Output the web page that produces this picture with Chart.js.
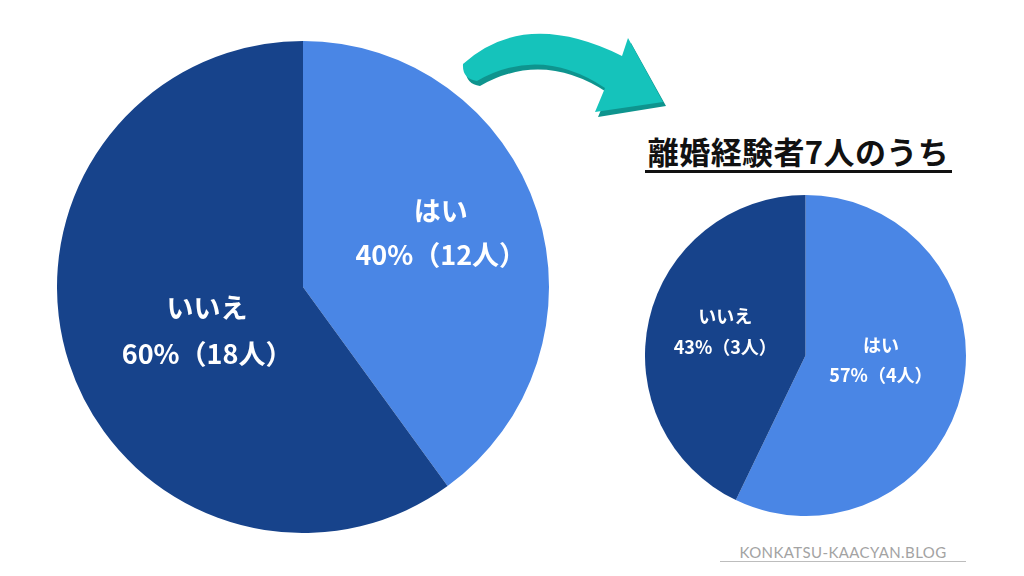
<!DOCTYPE html>
<html lang="ja">
<head>
<meta charset="utf-8">
<script src="https://cdn.jsdelivr.net/npm/chart.js@4"></script>
<style>
  html, body { margin: 0; padding: 0; background: #fff; }
  body { width: 1024px; height: 576px; position: relative; overflow: hidden;
         font-family: "Noto Sans CJK JP", "Noto Sans", sans-serif; }
  .pie { position: absolute; }
  #bigWrap { left: 57px; top: 41px; width: 492px; height: 492px; }
  #smallWrap { left: 645px; top: 195px; width: 321px; height: 321px; }
  #title { position: absolute; left: 645px; top: 132px; width: 307px; text-align: center;
           font-size: 31px; font-weight: 700; color: #111; line-height: 38px;
           border-bottom: 3px solid #111; letter-spacing: 0.4px; white-space: nowrap; }
  #arrow { position: absolute; left: 0; top: 0; }
  #credit { position: absolute; left: 720px; top: 544px; width: 246px; text-align: center;
            font-family: "Lato", "Noto Sans", sans-serif; font-size: 15px; color: #a3a3a3;
            letter-spacing: 0.4px; border-bottom: 1.5px solid #bdbdbd; line-height: 17px; }
</style>
</head>
<body>
<svg id="arrow" width="1024" height="576">
  <path d="M 466 69 Q 528 13 625 61 L 631 43 L 666 106 L 598 117 L 608 93 Q 543 50 480 86 Q 465 84 466 69 Z" fill="#0e948e"/>
  <path d="M 463 64 Q 525 8 622 56 L 628 38 L 663 102 L 595 112 L 605 88 Q 540 45 477 81 Q 462 79 463 64 Z" fill="#15c3bb"/>
</svg>

<div class="pie" id="bigWrap"><canvas id="bigPie"></canvas></div>
<div class="pie" id="smallWrap"><canvas id="smallPie"></canvas></div>

<div id="title">離婚経験者7人のうち</div>
<div id="credit">KONKATSU-KAACYAN.BLOG</div>

<script>
// Données
const categories = ['はい', 'いいえ']
const allCounts = [12, 18]        // 全体 30人
const divorcedCounts = [4, 3]     // 離婚経験者 7人
const sliceColors = ['#4a86e5', '#17438b']

// Label placement, in units of the pie radius (per slice)
const bigLabelOffsets = [[0.56, -0.31, -0.13], [-0.39, 0.085, 0.27]]
const smallLabelOffsets = [[0.47, -0.062, 0.125], [-0.50, -0.243, -0.05]]

// Plugin: two-line labels inside each slice
const sliceLabels = {
  id: 'sliceLabels',
  afterDatasetsDraw(chart, args, opts) {
    const { ctx } = chart
    const meta = chart.getDatasetMeta(0)
    const values = chart.data.datasets[0].data
    const total = values.reduce((a, b) => a + b, 0)
    ctx.save()
    ctx.fillStyle = '#ffffff'
    ctx.textAlign = 'center'
    ctx.textBaseline = 'middle'
    ctx.font = `bold ${opts.size}px "Noto Sans CJK JP", "Noto Sans", sans-serif`
    meta.data.forEach((arc, i) => {
      const r = arc.outerRadius
      const off = opts.offsets[i]
      const x = arc.x + off[0] * r
      const pct = Math.round(values[i] / total * 100)
      ctx.fillText(chart.data.labels[i], x, arc.y + off[1] * r)
      ctx.fillText(`${pct}%（${values[i]}人）`, x, arc.y + off[2] * r)
    })
    ctx.restore()
  }
}

function createPie(canvasId, counts, offsets, size) {
  const ctx = document.getElementById(canvasId)
  if (!ctx) return

  return new Chart(ctx, {
    type: 'pie',
    data: {
      labels: categories,
      datasets: [{
        data: counts,
        backgroundColor: sliceColors,
        borderWidth: 0,
      }],
    },
    options: {
      responsive: true,
      maintainAspectRatio: false,
      animation: false,
      layout: { padding: 0 },
      plugins: {
        legend: { display: false },
        tooltip: { enabled: false },
        sliceLabels: { offsets: offsets, size: size },
      },
    },
    plugins: [sliceLabels],
  })
}

createPie('bigPie', allCounts, bigLabelOffsets, 27)
createPie('smallPie', divorcedCounts, smallLabelOffsets, 18)
</script>
</body>
</html>
